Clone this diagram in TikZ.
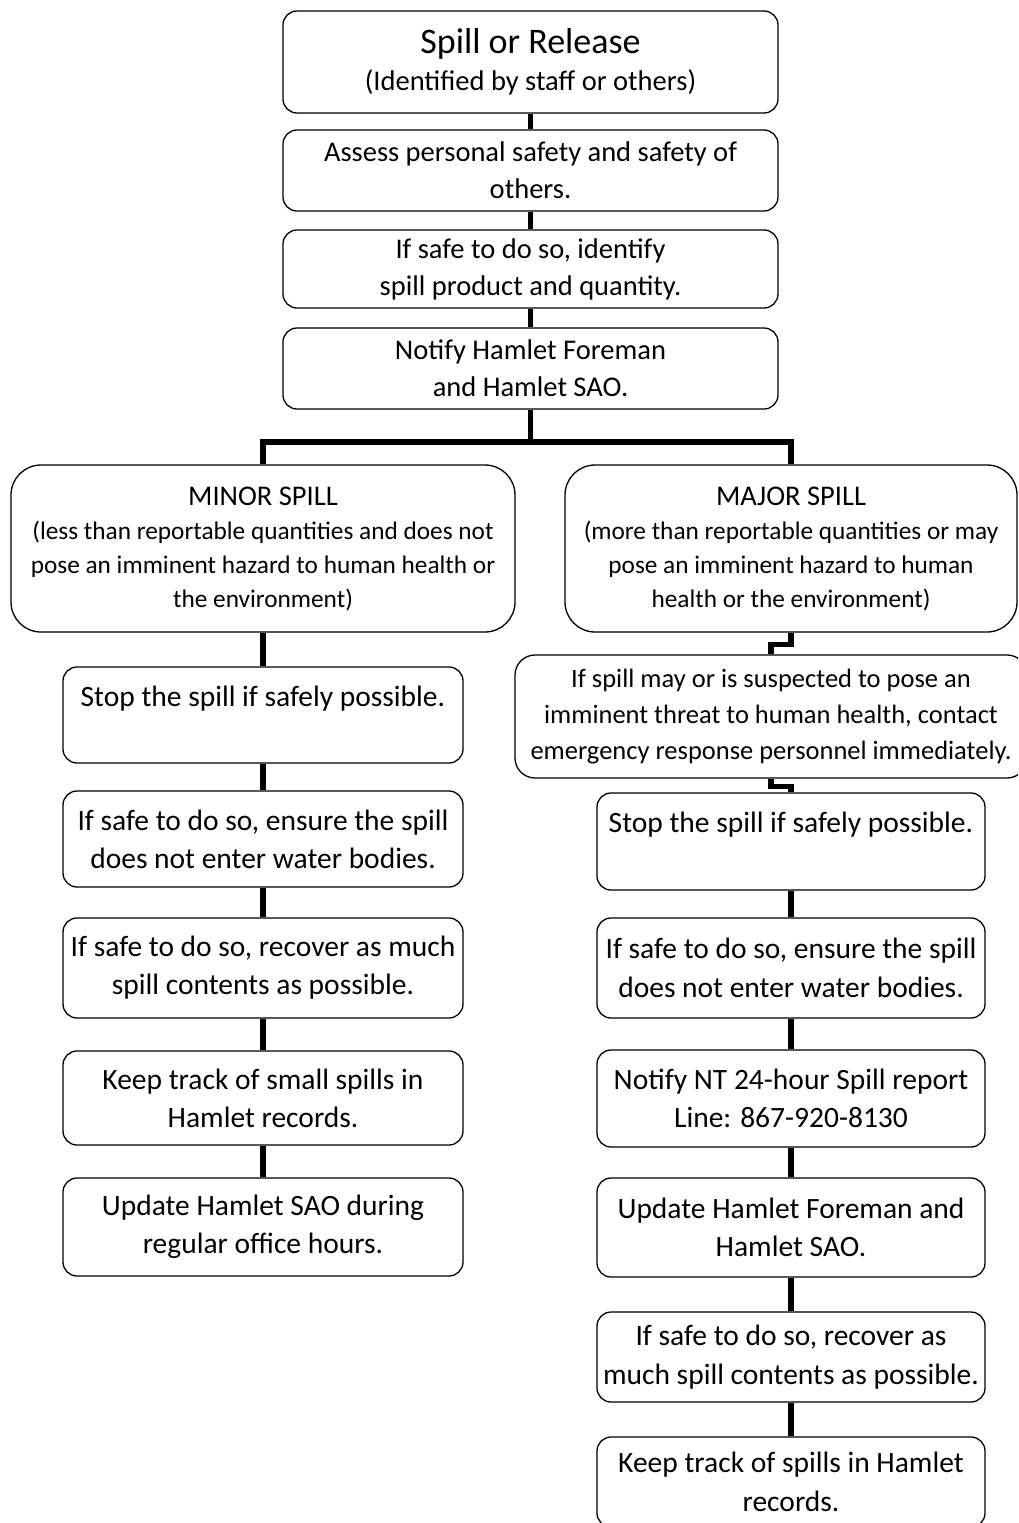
\documentclass[tikz,border=0pt]{standalone}
\usepackage{fontspec}
\setmainfont{Carlito}
\usepackage{tikz}
\usetikzlibrary{calc}

\begin{document}
\begin{tikzpicture}[x=1pt,y=1pt,
  box/.style={draw,line width=1.3pt,rounded corners=14pt,align=center,inner sep=2pt},
  topbox/.style={box,minimum width=495pt,font=\fontsize{28.5}{37}\selectfont},
  bigbox/.style={box,rounded corners=30pt,minimum width=#1,minimum height=167pt,font=\fontsize{25.3}{34}\selectfont},
  lbox/.style={box,minimum width=400pt,font=\fontsize{29.5}{38}\selectfont},
  rbox/.style={box,minimum width=388pt,font=\fontsize{29.5}{38.5}\selectfont},
  link/.style={line width=5.5pt}]
\useasboundingbox (0,0) rectangle (1018,-1523);
\clip (0,0) rectangle (1018,-1523);

% Draw the nodes used for the picture
\node[topbox,minimum height=102pt](spill) at (530.5,-62){{\fontsize{36}{38}\selectfont Spill or Release}\\(Identified by staff or others)};
\node[topbox,below of=spill,node distance=108.5pt,minimum height=81pt](assess){Assess personal safety and safety of\\others.};
\node[topbox,below of=assess,node distance=98.5pt,minimum height=78pt](identify){If safe to do so, identify\\spill product and quantity.};
\node[topbox,below of=identify,node distance=99.5pt,minimum height=81pt](notify){Notify Hamlet Foreman\\and Hamlet SAO.};
\coordinate[below of=notify,node distance=73.5pt](split);
\node[bigbox=504pt](minor) at (263,-548.5){{\fontsize{28.5}{34}\selectfont MINOR SPILL}\\(less than reportable quantities and does not\\pose an imminent hazard to human health or\\the environment)};
\node[bigbox=452pt](major) at (791,-548.5){{\fontsize{28.5}{34}\selectfont MAJOR SPILL}\\(more than reportable quantities or may\\pose an imminent hazard to human\\health or the environment)};

% minor spill column
\node[lbox,below of=minor,node distance=166.5pt,minimum height=96pt](lstop){Stop the spill if safely possible.\\~};
\node[lbox,below of=lstop,node distance=124pt,minimum height=96pt](lensure){If safe to do so, ensure the spill\\does not enter water bodies.};
\node[lbox,below of=lensure,node distance=129pt,minimum height=100pt](lrecover){If safe to do so, recover as much\\spill contents as possible.};
\node[lbox,below of=lrecover,node distance=130pt,minimum height=94pt](lkeep){Keep track of small spills in\\Hamlet records.};
\node[lbox,below of=lkeep,node distance=129pt,minimum height=98pt](lupdate){Update Hamlet SAO during\\regular office hours.};

% major spill column
\node[box,rounded corners=20pt,minimum width=512pt,minimum height=123pt,font=\fontsize{26.5}{36}\selectfont](threat) at ($(major)+(-20,-168)$){If spill may or is suspected to pose an\\imminent threat to human health, contact\\emergency response personnel immediately.};
\node[rbox,below of=major,node distance=293pt,minimum height=97pt](rstop){Stop the spill if safely possible.\\~};
\node[rbox,below of=rstop,node distance=126.5pt,minimum height=100pt](rensure){If safe to do so, ensure the spill\\does not enter water bodies.};
\node[rbox,below of=rensure,node distance=130.5pt,minimum height=97pt](rnotify){Notify NT 24-hour Spill report\\Line: 867-920-8130};
\node[rbox,below of=rnotify,node distance=129pt,minimum height=99pt](rupdate){Update Hamlet Foreman and\\Hamlet SAO.};
\node[rbox,below of=rupdate,node distance=129.5pt,minimum height=90pt](rrecover){If safe to do so, recover as\\much spill contents as possible.};
\node[rbox,below of=rrecover,node distance=125pt,minimum height=90pt](rkeep){Keep track of spills in Hamlet\\records.};

% Draw the edges between the nodes
\draw[link] (spill) -- (assess);
\draw[link] (assess) -- (identify);
\draw[link] (identify) -- (notify);
\draw[link] (notify) -- (split);
\draw[link] (minor) |- (split) -| (major);
\draw[link] (minor) -- (lstop);
\draw[link] (lstop) -- (lensure);
\draw[link] (lensure) -- (lrecover);
\draw[link] (lrecover) -- (lkeep);
\draw[link] (lkeep) -- (lupdate);
\draw[link] (major.south) -- ++(0,-12) -| (threat);
\draw[link] (threat.south) -- ++(0,-8) -| (rstop);
\draw[link] (rstop) -- (rensure);
\draw[link] (rensure) -- (rnotify);
\draw[link] (rnotify) -- (rupdate);
\draw[link] (rupdate) -- (rrecover);
\draw[link] (rrecover) -- (rkeep);
\end{tikzpicture}
\end{document}
